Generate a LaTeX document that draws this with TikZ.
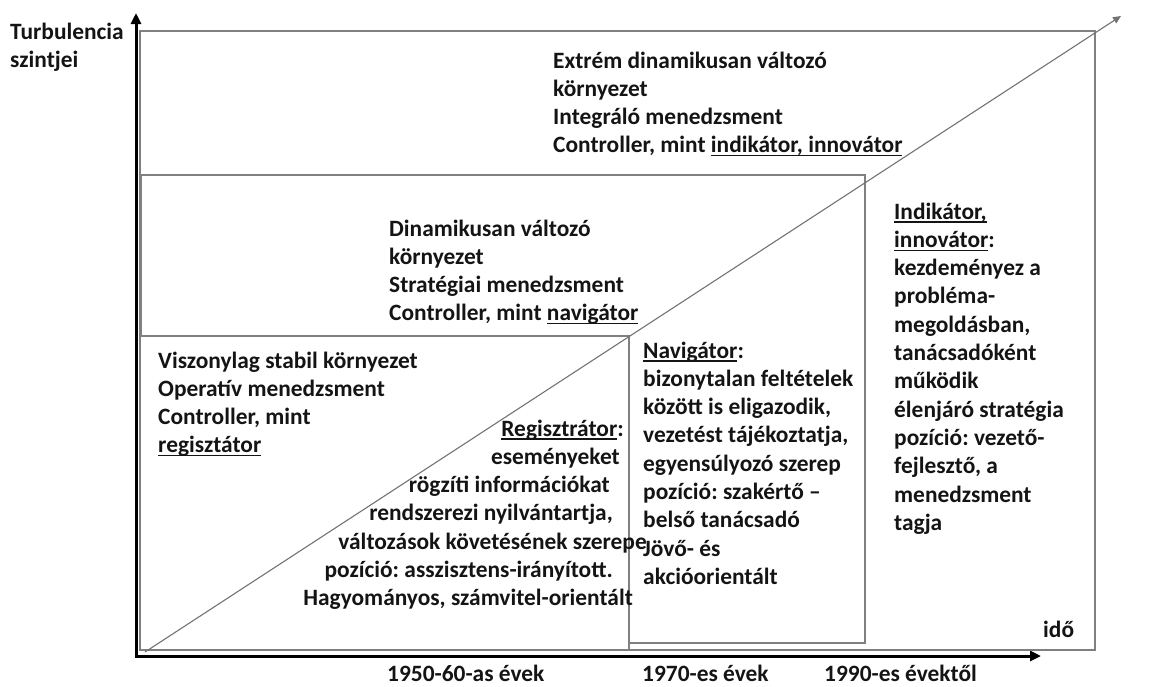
\documentclass[tikz,border=0pt]{standalone}
\usepackage{fontspec}
\setmainfont{Carlito}
\usetikzlibrary{arrows.meta}
% underline with a fixed depth, independent of descenders
\newlength\ulwd
\newcommand\ulx[1]{\settowidth{\ulwd}{#1}\rlap{\rule[-3.5pt]{\ulwd}{1.3pt}}#1}
\frenchspacing

\begin{document}
\begin{tikzpicture}[x=1pt,y=-1pt,
  axis/.style={line width=3pt, -{Triangle[length=11pt,width=10pt]}},
  frame/.style={draw=black!50, line width=1.3pt},
  trend/.style={draw=black!55, line width=1.1pt, -{Triangle[length=8pt,width=7pt]}},
  txt/.style={inner sep=0pt, font=\fontsize{23.4}{28.3}\selectfont\bfseries, text=black!92}]
\useasboundingbox (0,0) rectangle (1168,686);

% axes
\coordinate (o) at (136,656);
\coordinate (ytop) at (136,13);
\coordinate (xend) at (1041,656);
\draw[axis] (o) -- (ytop);
\draw[axis] ([xshift=-1.5pt]o) -- (xend);

% nested regions
\draw[frame] (140,31) rectangle (1095,650);
\draw[frame] (141,336) -- (141,175) -- (865,175) -- (865,643) -- (629,643);
\draw[frame] (141,336) -- (629,336) -- (629,650);

% rising trend line
\coordinate (ts) at (145,652);
\coordinate (te) at (1121,16);
\draw[trend] (ts) -- (te);

% axis titles
\node[txt, anchor=north west, align=left] (yl) at (10,19)
  {\strut Turbulencia\\ \strut szintjei};
\node[txt, anchor=base west] (xl) at (1043,637) {idő};

% period labels
\node[txt, anchor=base west] (p1) at (387,681) {1950-60-as évek};
\node[txt, anchor=base west] (p2) at (642,681) {1970-es évek};
\node[txt, anchor=base west] (p3) at (824,681) {1990-es évektől};

% environment descriptions
\node[txt, anchor=north west, align=left] (env3) at (553,48)
  {\strut Extrém dinamikusan változó\\
   \strut környezet\\
   \strut Integráló menedzsment\\
   \strut Controller, mint \ulx{indikátor, innovátor}};
\node[txt, anchor=north west, align=left] (env2) at (389,216)
  {\strut Dinamikusan változó\\
   \strut környezet\\
   \strut Stratégiai menedzsment\\
   \strut Controller, mint \ulx{navigátor}};
\node[txt, anchor=north west, align=left] (env1) at (158,348)
  {\strut Viszonylag stabil környezet\\
   \strut Operatív menedzsment\\
   \strut Controller, mint\\
   \strut \ulx{regisztátor}};

% controller roles (line ends set with kerns, which survive the line breaks)
\node[txt, anchor=north east, align=right] (role1) at (624,416)
  {\strut \ulx{Regisztrátor}:\\
   \strut eseményeket\kern4pt\\
   \strut rögzíti információkat\kern14pt\\
   \strut rendszerezi nyilvántartja,\kern11pt\\
   \strut változások követésének szerepe\kern-23pt\\
   \strut pozíció: asszisztens-irányított.\kern11pt\\
   \strut Hagyományos, számvitel-orientált\kern-9pt};
\node[txt, anchor=north west, align=left] (role2) at (643,338)
  {\strut \ulx{Navigátor}:\\
   \strut bizonytalan feltételek\\
   \strut között is eligazodik,\\
   \strut vezetést tájékoztatja,\\
   \strut egyensúlyozó szerep\\
   \strut pozíció: szakértő –\\
   \strut belső tanácsadó\\
   \strut Jövő- és\\
   \strut akcióorientált};
\node[txt, anchor=north west, align=left] (role3) at (894,199)
  {\strut \ulx{Indikátor,}\\
   \strut \ulx{innovátor}:\\
   \strut kezdeményez a\\
   \strut probléma-\\
   \strut megoldásban,\\
   \strut tanácsadóként\\
   \strut működik\\
   \strut élenjáró stratégia\\
   \strut pozíció: vezető-\\
   \strut fejlesztő, a\\
   \strut menedzsment\\
   \strut tagja};
\end{tikzpicture}
\end{document}
